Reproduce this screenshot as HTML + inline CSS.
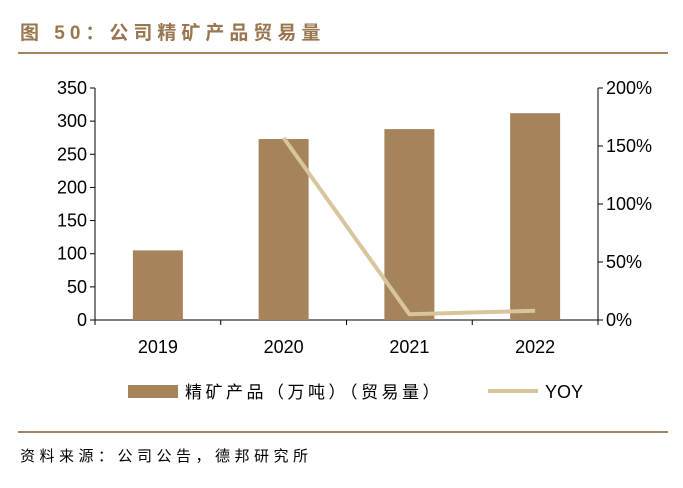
<!DOCTYPE html>
<html><head><meta charset="utf-8"><style>
body{margin:0;background:#fff;width:683px;height:488px;overflow:hidden;position:relative;font-family:"Liberation Sans","Noto Sans CJK SC",sans-serif}
.t{position:absolute;white-space:nowrap}
</style></head><body>
<div class="t" style="left:20px;top:18px;font-size:19px;font-weight:bold;color:#9a7650;letter-spacing:5px">图 50：公司精矿产品贸易量</div>
<div style="position:absolute;left:18px;top:52px;width:650px;height:2px;background:#a5835f"></div>
<svg id="c" width="683" height="488" style="position:absolute;left:0;top:0" font-family="Liberation Sans, Noto Sans CJK SC, sans-serif"></svg>
<div style="position:absolute;left:18px;top:431px;width:650px;height:2px;background:#a5835f"></div>
<div class="t" style="left:20px;top:445px;font-size:15px;color:#000;letter-spacing:4.5px">资料来源：公司公告，德邦研究所</div>
<script>
const categories=['2019','2020','2021','2022'];
const volumes=[105,273,288,312];
const yoy=[null,157,5,8];
const leftTicks=[0,50,100,150,200,250,300,350];
const rightTicks=[0,50,100,150,200];
const svg=document.getElementById('c');const NS='http://www.w3.org/2000/svg';
function mk(t,a,p){const e=document.createElementNS(NS,t);for(const k in a)e.setAttribute(k,a[k]);(p||svg).appendChild(e);return e;}
const X0=95,X1=598,Y0=320,Y1=88;
const bw=(X1-X0)/categories.length;
const xc=i=>X0+bw*(i+0.5);
const yl=v=>Y0-(v/350)*(Y0-Y1);
const yr=v=>Y0-(v/200)*(Y0-Y1);
let e;
e=mk('line',{x1:X0,y1:Y1,x2:X0,y2:Y0,stroke:'#000','stroke-width':1});
e=mk('line',{x1:X1,y1:Y1,x2:X1,y2:Y0,stroke:'#000','stroke-width':1});
e=mk('line',{x1:X0,y1:Y0,x2:X1,y2:Y0,stroke:'#000','stroke-width':1});
leftTicks.forEach(v=>{const y=yl(v);
 mk('line',{x1:X0-5,y1:y,x2:X0,y2:y,stroke:'#000'});
 e=mk('text',{x:X0-8,y:y+6,'text-anchor':'end','font-size':18});e.textContent=v;});
rightTicks.forEach(v=>{const y=yr(v);
 mk('line',{x1:X1,y1:y,x2:X1+5,y2:y,stroke:'#000'});
 e=mk('text',{x:X1+8,y:y+6,'font-size':18});e.textContent=v+'%';});
for(let i=0;i<=categories.length;i++){mk('line',{x1:X0+bw*i,y1:Y0,x2:X0+bw*i,y2:Y0+5,stroke:'#000'});}
categories.forEach((c,i)=>{
 e=mk('rect',{x:xc(i)-25,y:yl(volumes[i]),width:50,height:Y0-yl(volumes[i]),fill:'#a6845b'});
 e=mk('text',{x:xc(i),y:353,'text-anchor':'middle','font-size':18});e.textContent=c;
});
const pts=[];yoy.forEach((v,i)=>{if(v!==null)pts.push(xc(i)+','+yr(v));});
e=mk('polyline',{points:pts.join(' '),fill:'none',stroke:'#d8c59c','stroke-width':4});
e=mk('rect',{x:128,y:385,width:50,height:13,fill:'#a6845b'});
e=mk('text',{x:185,y:398,'font-size':17,'letter-spacing':'3.5'});e.textContent='精矿产品（万吨）（贸易量）';
e=mk('line',{x1:488,y1:391,x2:538,y2:391,stroke:'#d8c59c','stroke-width':4});
e=mk('text',{x:545,y:398,'font-size':18});e.textContent='YOY';
</script>
</body></html>
